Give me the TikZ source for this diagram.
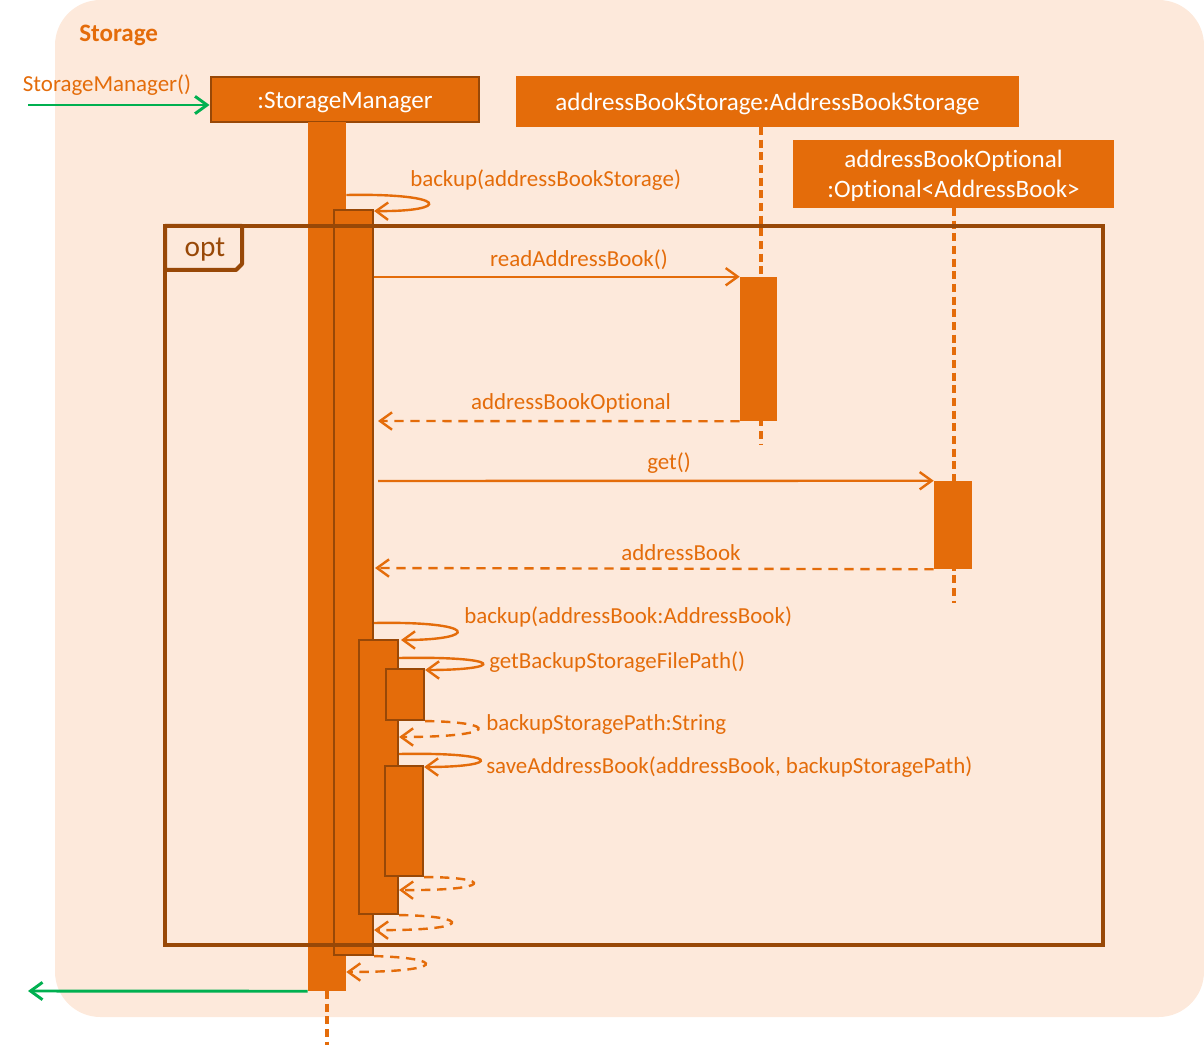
\documentclass[tikz,border=0pt]{standalone}
\usepackage{fontspec}
\setmainfont{Carlito}[Ligatures=NoCommon]
\usetikzlibrary{arrows.meta,fit}
\definecolor{bgc}{HTML}{FDE9DB}
\definecolor{org}{HTML}{E46C0A}
\definecolor{brn}{HTML}{984807}
\definecolor{grn}{HTML}{00B050}
\begin{document}
\begin{tikzpicture}[x=0.75pt,y=-0.75pt,
  font=\fontsize{17.2}{20}\selectfont,
  head/.style={fill=org,draw=none,text=white,inner sep=0pt},
  htext/.style={text=white,inner sep=0pt,font=\fontsize{18.8}{22.5}\selectfont},
  actbar/.style={fill=org,inner sep=0pt},
  actb/.style={actbar,draw=brn,line width=1.6pt},
  lifeln/.style={draw=org,line width=2.3pt,dash pattern=on 6pt off 3.5pt},
  msg/.style={draw=org,line width=1.8pt,-{Straight Barb[length=9pt,width=13pt,line width=1.8pt]}},
  ret/.style={msg,dash pattern=on 7pt off 5pt},
  lbl/.style={text=org,inner sep=0pt},
  gmsg/.style={draw=grn,line width=2.2pt,-{Straight Barb[length=9pt,width=13pt,line width=2.2pt]}}]
\useasboundingbox (0,0) rectangle (1204,1045);
% background package
\fill[bgc,rounded corners=34pt] (55,0) rectangle (1204,1017);
\node[lbl,anchor=west,font=\fontsize{18.8}{22}\selectfont\bfseries] (pkg) at (79,35) {Storage};

% lifelines
\draw[lifeln] (327,991) -- (327,1045);
\draw[lifeln] (761,127) -- (761,445);
\draw[lifeln] (954,208) -- (954,603);

% headers
\node[head,draw=brn,line width=2.2pt,fit={(211,77) (479,122)}] (sm) {};
\node[htext] at ([yshift=-2.2pt]sm.center) {:StorageManager};
\node[head,fit={(516,76) (1019,127)}] (abs) {};
\node[htext] at ([yshift=-1.5pt]abs.center) {addressBookStorage:AddressBookStorage};
\node[head,fit={(793,140) (1114,208)}] (abo) {};
\node[htext,align=center] at ([yshift=-1.5pt]abo.center) {addressBookOptional\\:Optional<AddressBook>};

% activation bars
\node[actbar,fit={(308,122) (346,991)}] (a1) {};
\node[actb,fit={(334,210) (373,955)}] (a2) {};
\node[actbar,fit={(740,277) (777,421)}] (as) {};
\node[actbar,fit={(934,481) (972,569)}] (ao) {};
\node[actb,fit={(359,640) (398,914)}] (a3) {};
\node[actb,fit={(386,669) (424,720)}] (a4) {};
\node[actb,fit={(385,766) (423,876)}] (a5) {};

% opt frame
\draw[brn,line width=3pt] (165,226) rectangle (1103,945);
\draw[brn,line width=3pt,line join=round] (165,226) -- (242,226) -- (242,264) -- (236,270) -- (165,270) -- cycle;
\node[text=brn,inner sep=0pt,font=\fontsize{22}{24}\selectfont] (opt) at (205,250) {opt};

% green entry and exit
\coordinate (gin) at (28,105);
\coordinate (gout) at (28,991);
\draw[gmsg] (gin) -- (sm.west |- gin);
\node[lbl] at (107,85) {StorageManager()};
\draw[gmsg] (a1.south west) -- (gout);

% backup(addressBookStorage)
\draw[msg] (a1.east |- 0,195) .. controls (451,193) and (451,212) .. (a2.east |- 0,211);
\node[lbl,anchor=west] at (410,180) {backup(addressBookStorage)};

% readAddressBook
\draw[msg] (a2.east |- as.north) -- (as.north west);
\node[lbl] at (579,260) {readAddressBook()};
\draw[ret] (as.south west) -- (378,421);
\node[lbl] at (571,403) {addressBookOptional};

% get
\draw[msg] (378,481) -- (ao.north west);
\node[lbl] at (669,463) {get()};
\draw[ret] (ao.south west) -- (375,568);
\node[lbl] at (681,553) {addressBook};

% backup(addressBook)
\draw[msg] (a2.east |- 0,623) .. controls (480,621) and (480,640) .. (401,640);
\node[lbl,anchor=west] at (464,617) {backup(addressBook:AddressBook)};

% getBackupStorageFilePath
\draw[msg] (a3.east |- 0,658) .. controls (506,656) and (506,670) .. (a4.east |- 0,670);
\node[lbl,anchor=west] at (489,662) {getBackupStorageFilePath()};
\draw[ret] (a4.south east) .. controls (500,722) and (500,737) .. (a3.east |- 0,737);
\node[lbl,anchor=west] at (486,725) {backupStoragePath:String};

% saveAddressBook
\draw[msg] (a3.east |- 0,754) .. controls (503,752) and (503,767) .. (a5.east |- 0,767);
\node[lbl,anchor=west] at (486,767) {saveAddressBook(addressBook, backupStoragePath)};
\draw[ret] (a5.south east) .. controls (494,877) and (494,891) .. (a3.east |- 0,890);

% returns
\draw[ret] (a3.south east) .. controls (473,916) and (473,931) .. (a2.east |- 0,930);
\draw[ret] (a2.south east) .. controls (447,958) and (447,972) .. (a1.east |- 0,972);
\end{tikzpicture}
\end{document}
